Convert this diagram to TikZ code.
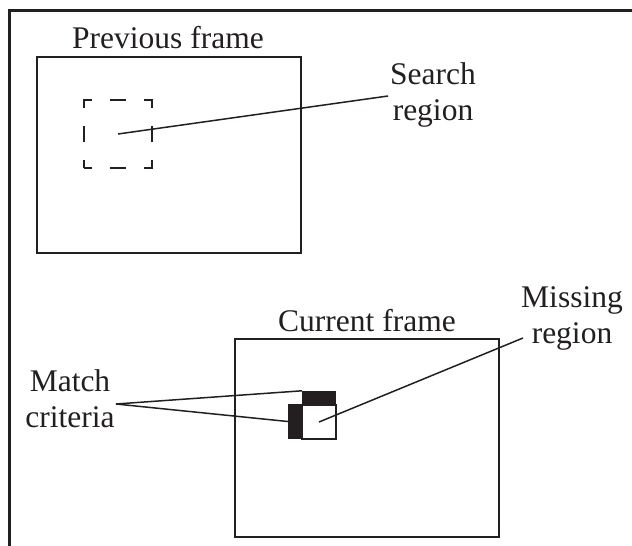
\documentclass[tikz,border=0pt]{standalone}
\usepackage{fontspec}
\setmainfont{Liberation Serif}
\definecolor{ink}{HTML}{231F20}
\begin{document}
\begin{tikzpicture}[x=1pt,y=-1pt,
  lbl/.style={font=\fontsize{31.5}{36}\selectfont, align=center, inner sep=0pt, text=ink},
  frm/.style={draw=ink, line width=1.5pt, inner sep=0pt},
  ln/.style={draw=ink, line width=1.5pt},
  blk/.style={fill=ink, draw=none, inner sep=0pt}]
\useasboundingbox (0,0) rectangle (632,546);
\clip (0,0) rectangle (632,546);
% outer frame (cropped)
\draw[ink, line width=3pt] (9,700) -- (9,10) -- (700,10);
% previous frame
\node[frm, minimum width=264, minimum height=196] (prev) at (169,155) {};
\node[lbl] (prevlbl) at (168,38) {Previous frame};
\node[frm, minimum width=68, minimum height=68, dash pattern=on 16pt off 18pt, dash phase=8pt] (search) at (118,134) {};
\node[lbl] (searchlbl) at (433,95) {Search\\region};
\coordinate (sr) at (388,96);
\draw[ln] (search.center) -- (sr);
% current frame
\node[frm, minimum width=264, minimum height=198] (cur) at (367,438) {};
\node[lbl] (curlbl) at (367,321) {Current frame};
\node[blk, minimum width=34, minimum height=14] (topbar) at (319,398) {};
\node[blk, minimum width=14, minimum height=35] (leftbar) at (295,421.5) {};
\node[frm, minimum width=34, minimum height=34] (miss) at (319,422) {};
\node[lbl] (matchlbl) at (70,399) {Match\\criteria};
\coordinate (mc) at (116,404);
\draw[ln] (mc) -- (topbar.north west);
\draw[ln] (mc) -- (leftbar.west);
\node[lbl] (misslbl) at (572,318) {Missing\\region};
\coordinate (mr) at (523,338);
\draw[ln] (miss.center) -- (mr);
\end{tikzpicture}
\end{document}
